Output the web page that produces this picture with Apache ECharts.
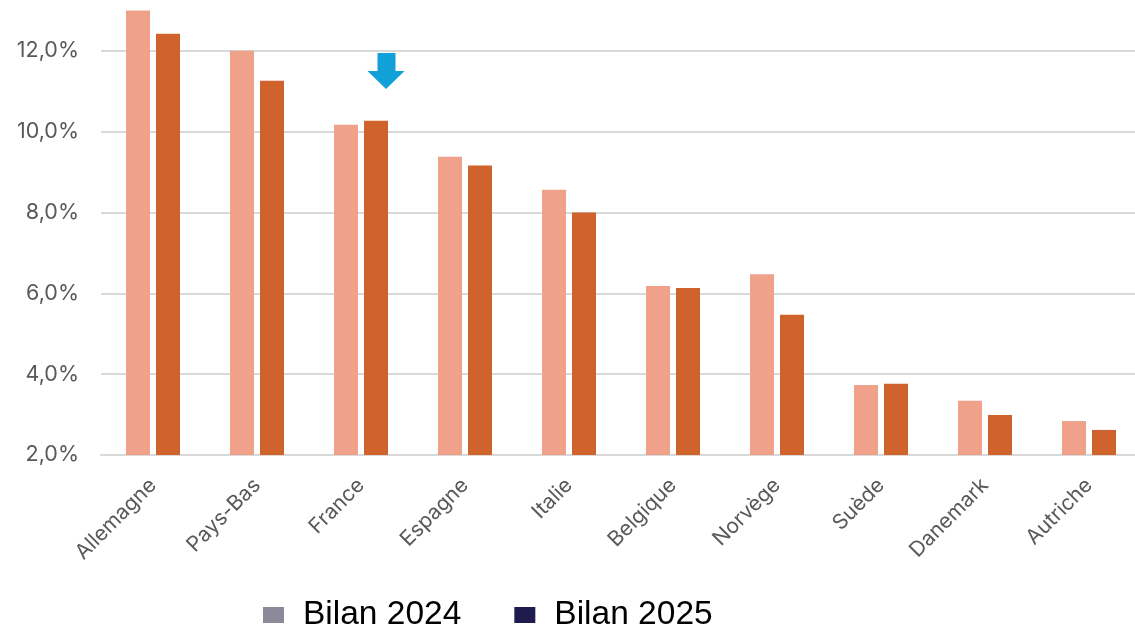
<!DOCTYPE html>
<html>
<head>
<meta charset="utf-8">
<script src="https://cdn.jsdelivr.net/npm/echarts@6/dist/echarts.min.js"></script>
<style>html,body{margin:0;padding:0;background:#fff;overflow:hidden;width:1135px;height:631px;position:relative;}
#c{position:absolute;left:0;top:-30px;width:1141px;height:661px;}</style>
</head>
<body>
<div id="c"></div>
<script>
const categories = ['Allemagne','Pays-Bas','France','Espagne','Italie','Belgique','Norvège','Suède','Danemark','Autriche'];
const bilan2024 = [13.0, 12.0, 10.17, 9.38, 8.56, 6.18, 6.47, 3.73, 3.34, 2.84];
const bilan2025 = [12.42, 11.26, 10.27, 9.16, 8.0, 6.13, 5.47, 3.76, 2.99, 2.62];
const seriesNames = ['Bilan 2024', 'Bilan 2025'];
const arrowAt = ['France', 11.5];

const chart = echarts.init(document.getElementById('c'));
const font = 'Inter, "Noto Sans", sans-serif';
chart.setOption({
  backgroundColor: '#ffffff',
  animation: false,
  grid: { left: 101, right: 0, top: 0, bottom: 176, containLabel: false, outerBoundsMode: 'none' },
  legend: {
    bottom: -6,
    left: 258,
    itemWidth: 21,
    itemHeight: 16,
    itemGap: 53,
    icon: 'rect',
    textStyle: { fontFamily: '"Liberation Sans", Arial, sans-serif', fontSize: 33.5, color: '#000', padding: [0, 0, 0, 14] },
    data: [
      { name: seriesNames[0], itemStyle: { color: '#8B8A9B' } },
      { name: seriesNames[1], itemStyle: { color: '#1F1B4D' } }
    ]
  },
  xAxis: {
    type: 'category',
    data: categories,
    axisLine: { show: true, lineStyle: { color: '#D9D9D9', width: 2 } },
    axisTick: { show: false },
    axisLabel: { rotate: 45, margin: 27, color: '#595959', fontSize: 21, fontFamily: font, interval: 0 }
  },
  yAxis: {
    type: 'value',
    min: 2, max: 14, interval: 2,
    axisLine: { show: false },
    axisTick: { show: false },
    splitLine: { lineStyle: { color: '#D9D9D9', width: 2 } },
    axisLabel: { margin: 22, color: '#595959', fontSize: 21.5, fontFamily: font,
      formatter: v => v.toFixed(1).replace('.', ',') + '%' }
  },
  series: [
    { name: seriesNames[0], type: 'bar', data: bilan2024, barWidth: 24, barGap: '25%',
      itemStyle: { color: '#EFA18A' } },
    { name: seriesNames[1], type: 'bar', data: bilan2025, barWidth: 24,
      itemStyle: { color: '#D0632B' },
      markPoint: {
        silent: true,
        data: [{ coord: arrowAt, symbol: 'path://M10,0 L28,0 L28,18 L37,18 L18.5,36 L0,18 L10,18 Z',
          symbolSize: [37, 36], symbolOffset: [10, 0], itemStyle: { color: '#12A0D8' }, label: { show: false } }]
      }
    }
  ]
});
</script>
</body>
</html>
